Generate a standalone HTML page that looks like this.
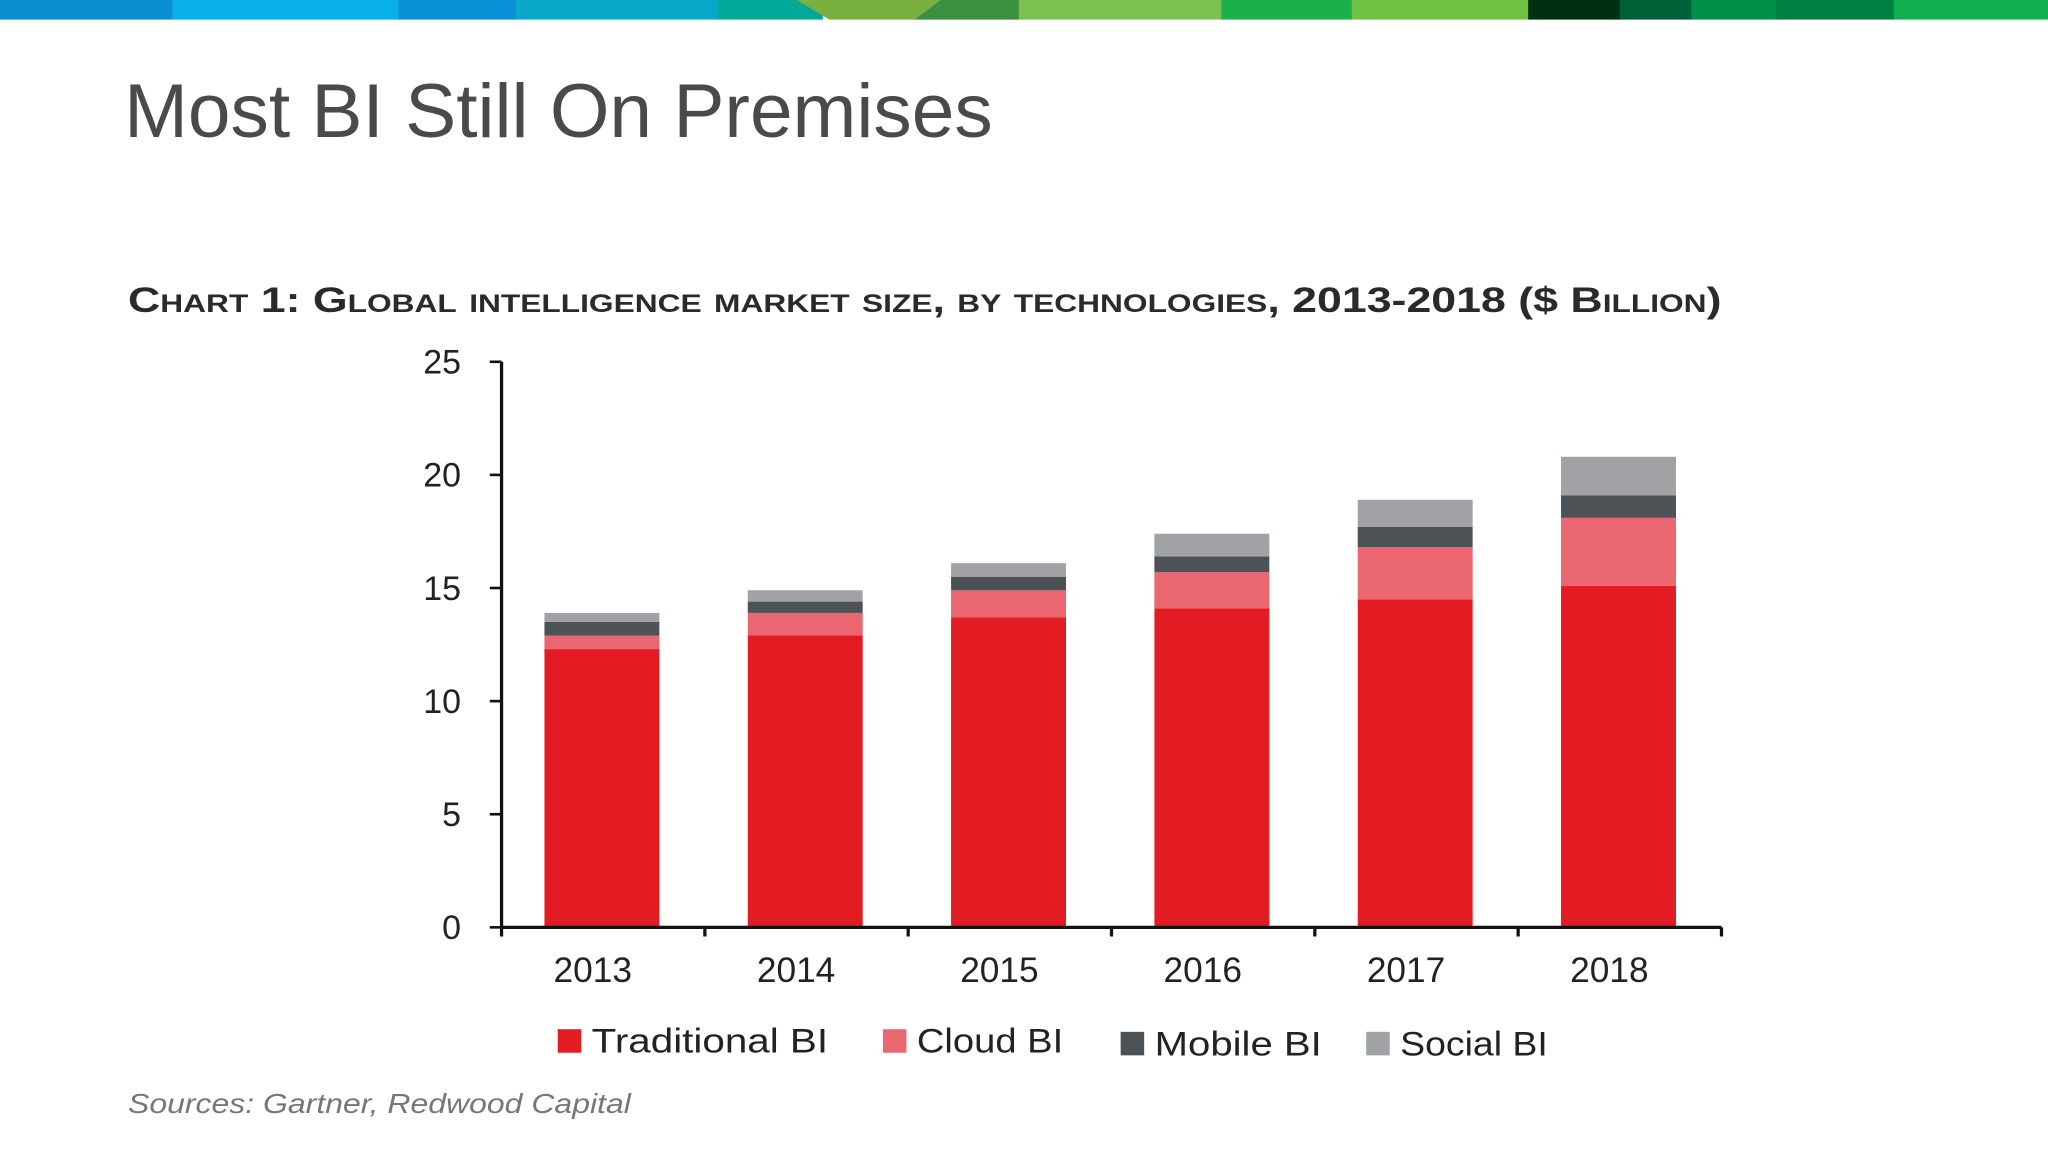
<!DOCTYPE html>
<html><head><meta charset="utf-8"><style>
html,body{margin:0;padding:0;background:#fff;}
svg{display:block;}
text{font-family:"Liberation Sans",sans-serif;}
</style></head><body>
<svg width="2048" height="1152" viewBox="0 0 1568 882" xmlns="http://www.w3.org/2000/svg">
<g>
<rect x="0" y="0" width="133" height="15" fill="#0a8fd0"/>
<rect x="132" y="0" width="174" height="15" fill="#0ab0e8"/>
<rect x="305" y="0" width="91" height="15" fill="#0a90d6"/>
<rect x="395" y="0" width="156" height="15" fill="#0aa8c8"/>
<rect x="550" y="0" width="80" height="15" fill="#00a89a"/>
<polygon points="610,0 720,0 700,15 635,15" fill="#7ab040"/>
<polygon points="720,0 790,0 780,15 700,15" fill="#3a9040"/>
<rect x="780" y="0" width="156" height="15" fill="#7cc050"/>
<rect x="935" y="0" width="101" height="15" fill="#1cb04a"/>
<rect x="1035" y="0" width="136" height="15" fill="#70c044"/>
<rect x="1170" y="0" width="71" height="15" fill="#00300f"/>
<rect x="1240" y="0" width="56" height="15" fill="#006038"/>
<rect x="1295" y="0" width="66" height="15" fill="#00904a"/>
<rect x="1360" y="0" width="91" height="15" fill="#008040"/>
<rect x="1450" y="0" width="118" height="15" fill="#10b050"/>
</g>
<text x="95" y="105" font-size="58" fill="#4a4a4a" textLength="665" lengthAdjust="spacingAndGlyphs">Most BI Still On Premises</text>
<text x="98" y="239" font-size="27" font-weight="bold" fill="#2a2a2a" style="font-variant:small-caps" textLength="1220" lengthAdjust="spacingAndGlyphs">Chart 1: Global intelligence market size, by technologies, 2013-2018 ($ Billion)</text>
<g id="chart"></g>
<g>
<g><rect x="427" y="788" width="18" height="18" fill="#e31b23"/><text x="453" y="806" font-size="26" fill="#222" textLength="181" lengthAdjust="spacingAndGlyphs">Traditional BI</text></g>
<g><rect x="676" y="788" width="18" height="18" fill="#ea6670"/><text x="702" y="806" font-size="26" fill="#222" textLength="112" lengthAdjust="spacingAndGlyphs">Cloud BI</text></g>
<g><rect x="858" y="790" width="18" height="18" fill="#4d5257"/><text x="884" y="808" font-size="26" fill="#222" textLength="128" lengthAdjust="spacingAndGlyphs">Mobile BI</text></g>
<g><rect x="1046" y="790" width="18" height="18" fill="#a0a2a5"/><text x="1072" y="808" font-size="26" fill="#222" textLength="113" lengthAdjust="spacingAndGlyphs">Social BI</text></g>
</g>
<text x="98" y="852" font-size="21" font-style="italic" fill="#777" textLength="385" lengthAdjust="spacingAndGlyphs">Sources: Gartner, Redwood Capital</text>
</svg>
<script>
const categories = ["2013","2014","2015","2016","2017","2018"];
const traditional = [12.3, 12.9, 13.7, 14.1, 14.5, 15.1];
const cloud = [0.6, 1.0, 1.2, 1.6, 2.3, 3.0];
const mobile = [0.6, 0.5, 0.6, 0.7, 0.9, 1.0];
const social = [0.4, 0.5, 0.6, 1.0, 1.2, 1.7];
const yTicks = [0, 5, 10, 15, 20, 25];

const NS = "http://www.w3.org/2000/svg";
const g = document.getElementById('chart');
const x0 = 384, x1 = 1318, yZero = 710, yTop = 277, yMax = 25;
const band = (x1 - x0) / categories.length;
const barW = 88;
function yScale(v){ return yZero - (v / yMax) * (yZero - yTop); }
function xCenter(i){ return x0 + band * (i + 0.5) - 1; }
function mk(tag, attrs){ const e = document.createElementNS(NS, tag); for (const k in attrs) e.setAttribute(k, attrs[k]); g.appendChild(e); return e; }

const series = [[traditional,'#e31b23','traditional'],[cloud,'#ea6670','cloud'],[mobile,'#4d5257','mobile'],[social,'#a0a2a5','social']];
categories.forEach((c, i) => {
  let base = 0;
  series.forEach(([arr, col, nm]) => {
    const top = base + arr[i];
    const r = mk('rect', {x: xCenter(i) - barW/2, y: yScale(top), width: barW, height: yScale(base) - yScale(top), fill: col});
    
    
    base = top;
  });
  const t = mk('text', {x: xCenter(i) - 7, y: 752, 'font-size': 27, 'text-anchor': 'middle', fill: '#222'});
  t.textContent = c;
  
  
});
const ya = mk('line', {x1: x0, y1: yTop, x2: x0, y2: yZero, stroke: '#111', 'stroke-width': 2.5});


const xa = mk('line', {x1: x0, y1: yZero, x2: x1, y2: yZero, stroke: '#111', 'stroke-width': 2.5});


yTicks.forEach(v => {
  const y = yScale(v);
  const tk = mk('line', {x1: x0 - 9, y1: y, x2: x0, y2: y, stroke: '#111', 'stroke-width': 2});
  
  
  const t = mk('text', {x: 353, y: y + 9, 'font-size': 26, 'text-anchor': 'end', fill: '#222'});
  t.textContent = v;
  
  
});
for (let i = 0; i <= categories.length; i++) {
  const x = x0 + band * i;
  const tk = mk('line', {x1: x, y1: yZero, x2: x, y2: yZero + 7, stroke: '#111', 'stroke-width': 2.5});
  
  
}
</script>
</body></html>
